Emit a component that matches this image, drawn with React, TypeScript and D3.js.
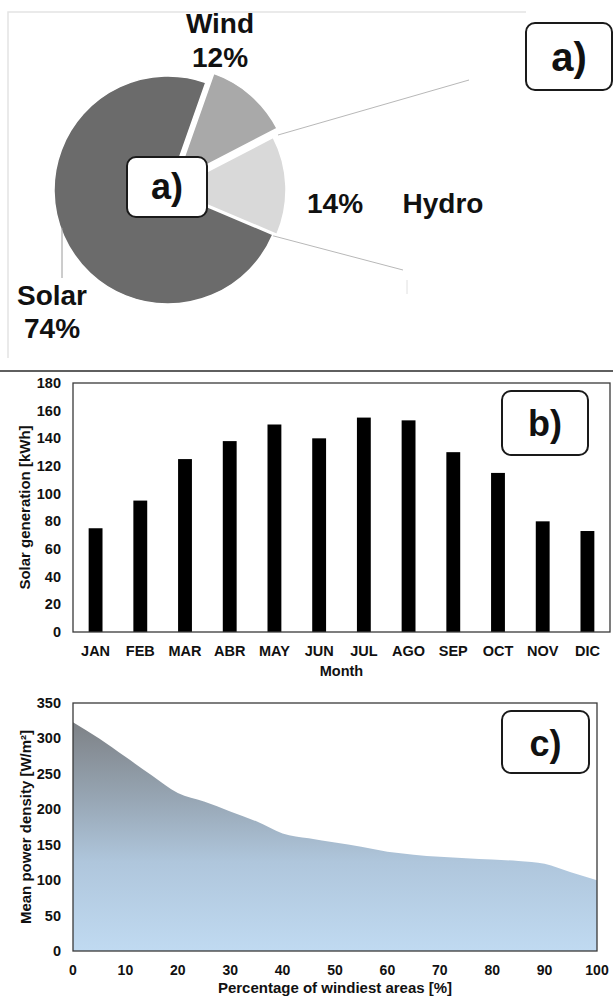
import React from "react";
import * as d3 from "d3";

// ---- Data ----
const pieLabels = ["Solar", "Wind", "Hydro"];
const pieValues = [74, 12, 14];

const months = ["JAN", "FEB", "MAR", "ABR", "MAY", "JUN", "JUL", "AGO", "SEP", "OCT", "NOV", "DIC"];
const solarGen = [75, 95, 125, 138, 150, 140, 155, 153, 130, 115, 80, 73];
const barTicks = [0, 20, 40, 60, 80, 100, 120, 140, 160, 180];

const windPct = [0, 5, 10, 15, 20, 25, 30, 35, 40, 45, 50, 55, 60, 65, 70, 75, 80, 85, 90, 95, 100];
const windDensity = [323, 300, 274, 248, 223, 211, 197, 183, 166, 159, 153, 147, 140, 136, 133, 131, 129, 127, 123, 111, 100];
const areaYTicks = [0, 50, 100, 150, 200, 250, 300, 350];
const areaXTicks = [0, 10, 20, 30, 40, 50, 60, 70, 80, 90, 100];

const FONT = "'Liberation Sans', Arial, Helvetica, sans-serif";

function LabelBox({ x, y, w, h, text, size, baseline }: any) {
  return (
    <g>
      <rect x={x} y={y} width={w} height={h} rx={9} ry={9} fill="#fff" stroke="#1a1a1a" strokeWidth={2} />
      <text x={x + w / 2} y={baseline} textAnchor="middle" fontSize={size} fontWeight="bold" fill="#111">
        {text}
      </text>
    </g>
  );
}

export default function App() {
  const W = 613;
  const H = 1001;

  // ---- Pie ----
  const cx = 168, cy = 190, r = 114;
  const deg = Math.PI / 180;
  const pieGen = d3.pie<number>().sort(null).startAngle(113 * deg).endAngle(113 * deg + 2 * Math.PI);
  const arcs = pieGen(pieValues);
  const arcGen = d3.arc<any>().innerRadius(0).outerRadius(r);
  const pieColors = ["#6b6b6b", "#a9a9a9", "#d9d9d9"];
  const explode = [0, 12, 4];

  // ---- Bar chart ----
  const bx0 = 73, bx1 = 610, by0 = 383, by1 = 632;
  const xb = d3.scaleBand().domain(months).range([bx0, bx1]).paddingInner(0.69).paddingOuter(0.35);
  const yb = d3.scaleLinear().domain([0, 180]).range([by1, by0]);

  // ---- Area chart ----
  const ax0 = 73, ax1 = 597, ay0 = 703, ay1 = 951;
  const xa = d3.scaleLinear().domain([0, 100]).range([ax0, ax1]);
  const ya = d3.scaleLinear().domain([0, 350]).range([ay1, ay0]);
  const areaGen = d3
    .area<number>()
    .x((_, i) => xa(windPct[i]))
    .y0(ya(0))
    .y1((d) => ya(d))
    .curve(d3.curveMonotoneX);
  const areaPath = areaGen(windDensity) || "";

  return (
    <svg
      width={W}
      height={H}
      viewBox={`0 0 ${W} ${H}`}
      style={{ position: "absolute", left: 0, top: 0, background: "#fff" }}
      fontFamily={FONT}
    >
      <defs>
        <linearGradient id="areaGrad" gradientUnits="userSpaceOnUse" x1={0} y1={ya(330)} x2={0} y2={ya(0)}>
          <stop offset="0%" stopColor="#7c7f83" />
          <stop offset="35%" stopColor="#97a6b4" />
          <stop offset="62%" stopColor="#afc6dc" />
          <stop offset="100%" stopColor="#c0daf1" />
        </linearGradient>
      </defs>
      <rect x={0} y={0} width={W} height={H} fill="#fff" />

      {/* ===== Panel a: pie ===== */}
      <path d="M8,358 L8,12 L526,12" fill="none" stroke="#e4e4e4" strokeWidth={1.5} />
      <line x1={278} y1={135} x2={469} y2={80} stroke="#b8b8b8" strokeWidth={1} />
      <line x1={270} y1={235} x2={403} y2={270} stroke="#b8b8b8" strokeWidth={1} />
      <line x1={407} y1={280} x2={407} y2={294} stroke="#e0e0e0" strokeWidth={1} />
      <g transform={`translate(${cx},${cy})`}>
        {arcs.map((a, i) => {
          const mid = (a.startAngle + a.endAngle) / 2;
          const dx = Math.sin(mid) * explode[i];
          const dy = -Math.cos(mid) * explode[i];
          return (
            <path
              key={pieLabels[i]}
              d={arcGen(a) || ""}
              transform={`translate(${dx},${dy})`}
              fill={pieColors[i]}
              stroke="#fff"
              strokeWidth={1.5}
            />
          );
        })}
      </g>
      <line x1={62} y1={228} x2={62} y2={278} stroke="#9a9a9a" strokeWidth={1} />
      <g fontWeight="bold" fontSize={28} fill="#111" textAnchor="middle">
        <text x={220} y={33}>{pieLabels[1]}</text>
        <text x={220} y={67}>{pieValues[1]}%</text>
        <text x={335} y={213}>{pieValues[2]}%</text>
        <text x={443} y={213}>{pieLabels[2]}</text>
        <text x={52} y={305}>{pieLabels[0]}</text>
        <text x={52} y={338}>{pieValues[0]}%</text>
      </g>
      <LabelBox x={127} y={157} w={80} h={60} text="a)" size={36} baseline={199} />
      <LabelBox x={526} y={23} w={86} h={67} text="a)" size={40} baseline={71} />

      <line x1={0} y1={371} x2={W} y2={371} stroke="#2a2a2a" strokeWidth={1.5} />

      {/* ===== Panel b: bars ===== */}
      {solarGen.map((v, i) => (
        <rect
          key={months[i]}
          x={xb(months[i])!}
          y={yb(v)}
          width={xb.bandwidth()}
          height={yb(0) - yb(v)}
          fill="#000"
        />
      ))}
      <rect x={bx0} y={by0} width={bx1 - bx0} height={by1 - by0} fill="none" stroke="#3a3a3a" strokeWidth={1.3} />
      <g fontWeight="bold" fontSize={14.5} fill="#111">
        {barTicks.map((t) => (
          <text key={t} x={61} y={yb(t)} textAnchor="end" dominantBaseline="central">
            {t}
          </text>
        ))}
        {months.map((m) => (
          <text key={m} x={xb(m)! + xb.bandwidth() / 2} y={656} textAnchor="middle">
            {m}
          </text>
        ))}
      </g>
      <text x={(bx0 + bx1) / 2} y={676} textAnchor="middle" fontWeight="bold" fontSize={14.5} fill="#111">
        Month
      </text>
      <text
        transform={`translate(24,${(by0 + by1) / 2}) rotate(-90)`}
        textAnchor="middle"
        dominantBaseline="central"
        fontWeight="bold"
        fontSize={15}
        fill="#111"
      >
        Solar generation [kWh]
      </text>
      <LabelBox x={502} y={391} w={86} h={64} text="b)" size={36} baseline={436} />

      {/* ===== Panel c: area ===== */}
      <path d={areaPath} fill="url(#areaGrad)" />
      <rect x={ax0} y={ay0} width={ax1 - ax0} height={ay1 - ay0} fill="none" stroke="#3a3a3a" strokeWidth={1.3} />
      <g fontWeight="bold" fontSize={14} fill="#111">
        {areaYTicks.map((t) => (
          <text key={t} x={61} y={ya(t)} textAnchor="end" dominantBaseline="central" fontSize={14.5}>
            {t}
          </text>
        ))}
        {areaXTicks.map((t) => (
          <text key={t} x={xa(t)} y={975} textAnchor="middle">
            {t}
          </text>
        ))}
      </g>
      <text x={(ax0 + ax1) / 2} y={993} textAnchor="middle" fontWeight="bold" fontSize={15} fill="#111">
        Percentage of windiest areas [%]
      </text>
      <text
        transform={`translate(25,${(ay0 + ay1) / 2}) rotate(-90)`}
        textAnchor="middle"
        dominantBaseline="central"
        fontWeight="bold"
        fontSize={15}
        fill="#111"
      >
        Mean power density [W/m²]
      </text>
      <LabelBox x={502} y={711} w={87} h={62} text="c)" size={36} baseline={756} />
    </svg>
  );
}
